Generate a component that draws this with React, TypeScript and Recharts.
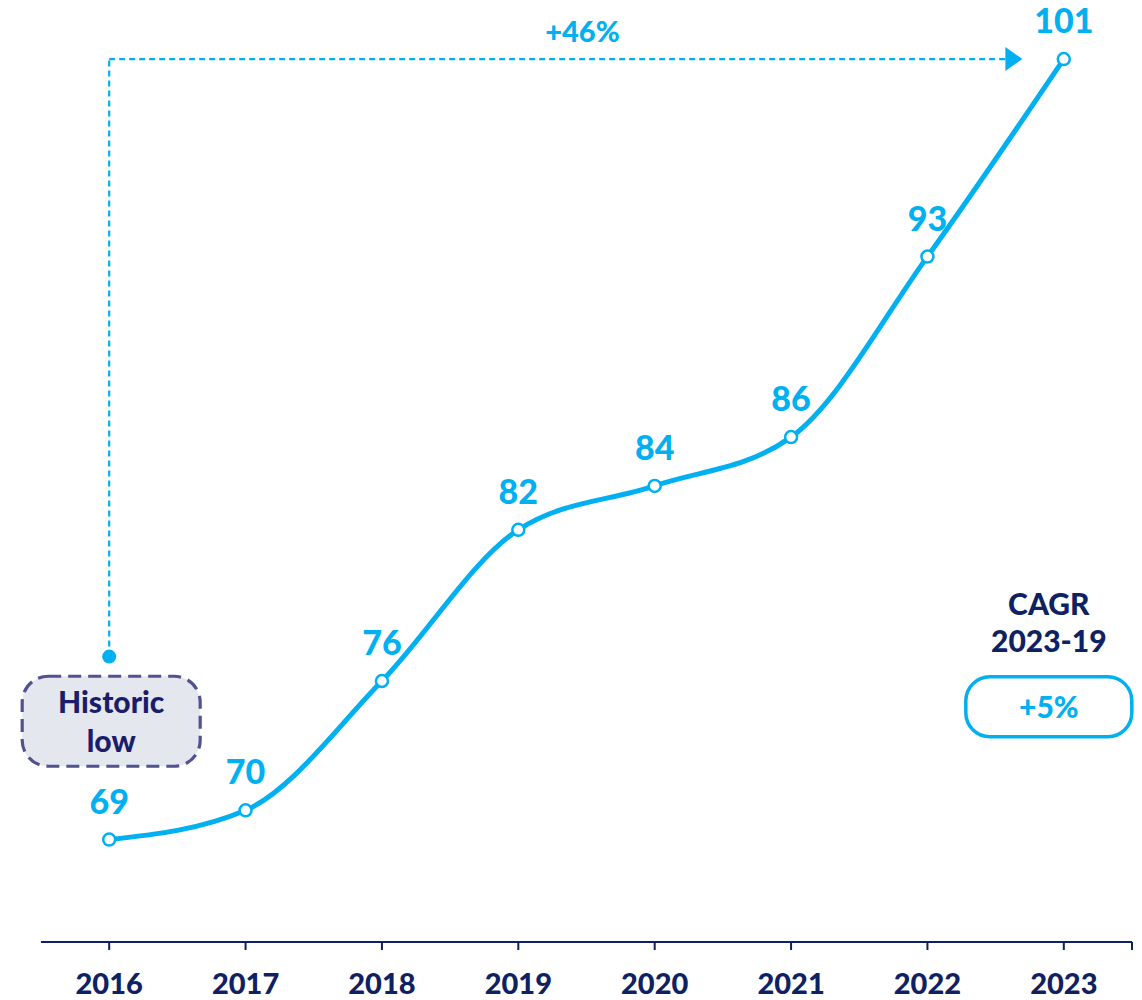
import { LineChart, Line, XAxis, YAxis, ReferenceLine, ReferenceDot, LabelList } from 'recharts';

const years = ['2016', '2017', '2018', '2019', '2020', '2021', '2022', '2023'];
const values = [69.0, 70.2, 75.5, 81.7, 83.5, 85.5, 92.9, 101.0];
const valueLabels = ['69', '70', '76', '82', '84', '86', '93', '101'];

const BLUE = '#00B0F0';
const NAVY = '#0e2163';
const FONT = 'Lato, "Open Sans", sans-serif';
const WEIGHT = 900;

const data = years.map((y, i) => ({ i, year: y, value: values[i], label: valueLabels[i] }));

// annotation anchors, in data units
const historicY = 76.5;
const arrowEndX = 6.57;
const growthTextX = 3.47;
const cagrX = 6.89;
const cagrY = 74.4;

const ArrowHead = (props: any) => {
  const { cx, cy } = props;
  return <path d={`M${cx - 8},${cy - 12} L${cx + 9},${cy} L${cx - 8},${cy + 12} Z`} fill={BLUE} />;
};

const GrowthText = (props: any) => {
  const { cx, cy } = props;
  return (
    <text x={cx} y={cy - 17} textAnchor="middle" fill={BLUE} fontFamily={FONT} fontWeight={WEIGHT} fontSize={29}>
      +46%
    </text>
  );
};

const HistoricBox = (props: any) => {
  const { cx, cy } = props;
  return (
    <g>
      <rect x={cx - 87} y={cy - 45} width={178} height={90} rx={26} ry={26}
        fill="#e4e8ee" stroke="#51528f" strokeWidth={3.2} strokeDasharray="13 7" />
      <text x={cx + 2} y={cy - 8} textAnchor="middle" fill="#1b1d6b" fontFamily={FONT} fontWeight={WEIGHT} fontSize={30}>Historic</text>
      <text x={cx + 2} y={cy + 31} textAnchor="middle" fill="#1b1d6b" fontFamily={FONT} fontWeight={WEIGHT} fontSize={30}>low</text>
    </g>
  );
};

const CagrBox = (props: any) => {
  const { cx, cy } = props;
  return (
    <g>
      <text x={cx} y={cy - 93} textAnchor="middle" fill={NAVY} fontFamily={FONT} fontWeight={WEIGHT} fontSize={30}>CAGR</text>
      <text x={cx} y={cy - 56} textAnchor="middle" fill={NAVY} fontFamily={FONT} fontWeight={WEIGHT} fontSize={30}>2023-19</text>
      <rect x={cx - 83} y={cy - 31} width={166} height={60} rx={24} ry={24} fill="#fff" stroke={BLUE} strokeWidth={3.5} />
      <text x={cx} y={cy + 10} textAnchor="middle" fill={BLUE} fontFamily={FONT} fontWeight={WEIGHT} fontSize={30}>+5%</text>
    </g>
  );
};

export default function App() {
  return (
    <div style={{ position: 'absolute', left: 0, top: 0, width: 1142, height: 1000, background: '#fff' }}>
      <LineChart width={1142} height={1000} data={data} margin={{ top: 20, right: 10, bottom: 8, left: 41 }}>
        <XAxis
          type="number"
          dataKey="i"
          domain={[-0.5, 7.5]}
          ticks={[0, 1, 2, 3, 4, 5, 6, 7, 7.5]}
          tickFormatter={(v: number) => (Number.isInteger(v) ? years[v] : '')}
          height={50}
          axisLine={{ stroke: NAVY, strokeWidth: 2 }}
          tickLine={{ stroke: NAVY, strokeWidth: 2 }}
          tickSize={8}
          tickMargin={23}
          tick={{ fill: NAVY, fontFamily: FONT, fontWeight: WEIGHT, fontSize: 29 }}
          interval={0}
        />
        <YAxis hide domain={[64.8, 102.6]} />
        <ReferenceLine segment={[{ x: 0, y: historicY }, { x: 0, y: values[7] }]} stroke={BLUE} strokeWidth={2.2} strokeDasharray="6 4" />
        <ReferenceLine segment={[{ x: 0, y: values[7] }, { x: arrowEndX, y: values[7] }]} stroke={BLUE} strokeWidth={2.2} strokeDasharray="6 4" />
        <ReferenceDot x={arrowEndX + 0.06} y={values[7]} shape={ArrowHead} />
        <ReferenceDot x={growthTextX} y={values[7]} shape={GrowthText} />
        <ReferenceDot x={0} y={historicY} r={7} fill={BLUE} stroke="none" />
        <ReferenceDot x={0} y={73.85} shape={HistoricBox} />
        <ReferenceDot x={cagrX} y={cagrY} shape={CagrBox} />
        <Line
          type="monotone"
          dataKey="value"
          stroke={BLUE}
          strokeWidth={5}
          dot={{ r: 6, fill: '#fff', stroke: BLUE, strokeWidth: 2.5 }}
          activeDot={false}
          isAnimationActive={false}
        >
          <LabelList dataKey="label" position="top" offset={26} fill={BLUE} fontFamily={FONT} fontWeight={WEIGHT} fontSize={34} />
        </Line>
      </LineChart>
    </div>
  );
}
